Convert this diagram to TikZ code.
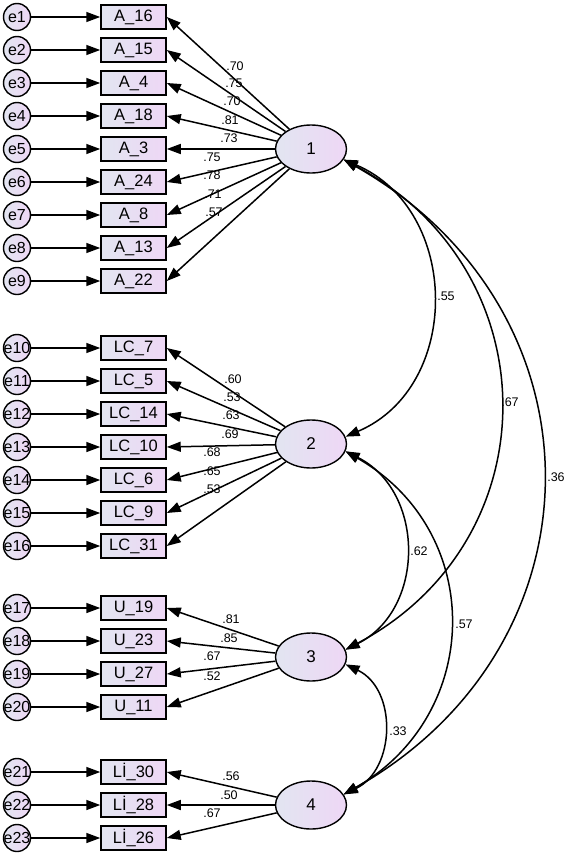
\documentclass[tikz,border=0pt]{standalone}
\usepackage{fontspec}
\setmainfont{Liberation Sans}
\usetikzlibrary{arrows.meta,shapes.geometric}
\definecolor{gl}{RGB}{226,229,241}
\definecolor{gr}{RGB}{238,215,245}
\tikzset{
  obs/.style={draw, line width=1.5pt, minimum width=65pt, minimum height=24pt, inner sep=0pt,
    left color=gl, right color=gr, font=\fontsize{16.5}{18}\selectfont},
  err/.style={draw, circle, line width=1.4pt, minimum size=27pt, inner sep=0pt,
    left color=gl, right color=gr, font=\fontsize{16}{17}\selectfont},
  lat/.style={draw, ellipse, line width=1.4pt, minimum width=71pt, minimum height=48pt, inner sep=0pt,
    left color=gl, right color=gr, font=\fontsize{17}{18}\selectfont},
  arr/.style={-{Triangle[length=14pt,width=10pt]}, line width=1.5pt},
  cov/.style={{Triangle[length=14pt,width=10pt]}-{Triangle[length=14pt,width=10pt]}, line width=1.5pt},
  coef/.style={font=\fontsize{12.5}{13}\selectfont, inner sep=0pt},
}
\begin{document}
\begin{tikzpicture}[x=1pt,y=-1pt]
\useasboundingbox (0,0) rectangle (567,854);
% latent factors
\node[lat] (f1) at (311,149) {1};
\node[lat] (f2) at (311,444) {2};
\node[lat] (f3) at (311,657) {3};
\node[lat] (f4) at (311,805) {4};
% factor 1 items
\foreach \i/\t in {1/A\_16,2/A\_15,3/A\_4,4/A\_18,5/A\_3,6/A\_24,7/A\_8,8/A\_13,9/A\_22}{
  \node[obs] (b\i) at (133.5,{17+33*(\i-1)}) {\t};
  \node[err] (e\i) at (17,{17+33*(\i-1)}) {\makebox[0pt]{e\i}};
  \draw[arr] (e\i) -- (b\i);
  \draw[arr] (f1) -- (b\i.east);
}
% factor 2 items
\foreach \i/\t in {10/LC\_7,11/LC\_5,12/LC\_14,13/LC\_10,14/LC\_6,15/LC\_9,16/LC\_31}{
  \node[obs] (b\i) at (133.5,{348+33*(\i-10)}) {\t};
  \node[err] (e\i) at (17,{348+33*(\i-10)}) {\makebox[0pt]{e\i}};
  \draw[arr] (e\i) -- (b\i);
  \draw[arr] (f2) -- (b\i.east);
}
% factor 3 items
\foreach \i/\t in {17/U\_19,18/U\_23,19/U\_27,20/U\_11}{
  \node[obs] (b\i) at (133.5,{608+33*(\i-17)}) {\t};
  \node[err] (e\i) at (17,{608+33*(\i-17)}) {\makebox[0pt]{e\i}};
  \draw[arr] (e\i) -- (b\i);
  \draw[arr] (f3) -- (b\i.east);
}
% factor 4 items
\foreach \i/\t in {21/Lİ\_30,22/Lİ\_28,23/Lİ\_26}{
  \node[obs] (b\i) at (133.5,{772+33*(\i-21)}) {\t};
  \node[err] (e\i) at (17,{772+33*(\i-21)}) {\makebox[0pt]{e\i}};
  \draw[arr] (e\i) -- (b\i);
  \draw[arr] (f4) -- (b\i.east);
}
% loading labels
\foreach \n/\x/\y/\v in {1/235/66/.70,2/234/83/.75,3/232/101/.70,4/230/120/.81,5/229/138/.73,
  6/212/157/.75,7/212/175/.78,8/213/194/.71,9/214/212/.57,
  10/233/379/.60,11/232/397/.53,12/231/415/.63,13/230/434/.69,14/212/452/.68,15/212/471/.65,16/212/489/.53,
  17/231/619/.81,18/229/638/.85,19/212/656/.67,20/212/676/.52,
  21/231/776/.56,22/229/795/.50,23/212/813/.67}{
  \node[coef] (c\n) at (\x,\y) {\v};
}
% covariances
\draw[cov] (f1.-18) .. controls +(117,50) and +(117,-50) .. (f2.12);
\draw[cov] (f1.-18) .. controls +(207,110) and +(207,-110) .. (f3.12);
\draw[cov] (f1.-18) .. controls +(265,150) and +(265,-150) .. (f4.18);
\draw[cov] (f2.-12) .. controls +(80,40) and +(80,-40) .. (f3.12);
\draw[cov] (f2.-12) .. controls +(140,80) and +(140,-80) .. (f4.18);
\draw[cov] (f3.-12) .. controls +(52,25) and +(52,-25) .. (f4.18);
% covariance labels
\node[coef] (k12) at (446,296) {.55};
\node[coef] (k13) at (510,402) {.67};
\node[coef] (k14) at (556,477) {.36};
\node[coef] (k23) at (419,551) {.62};
\node[coef] (k24) at (464,624) {.57};
\node[coef] (k34) at (398,731) {.33};
\end{tikzpicture}
\end{document}
